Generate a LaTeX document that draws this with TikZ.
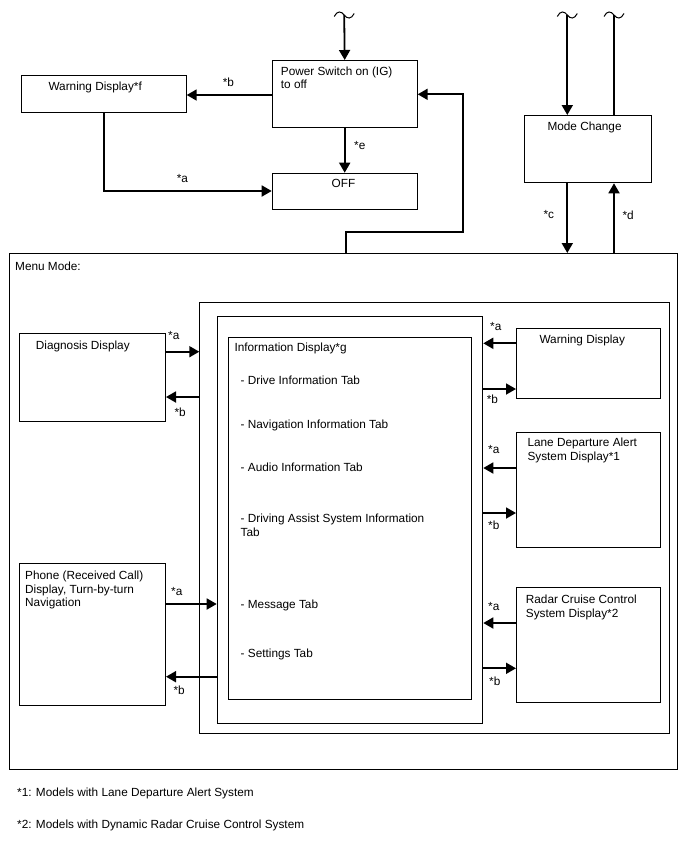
\documentclass[tikz,border=0pt]{standalone}
\usepackage{fontspec}
\setmainfont{Liberation Sans}
\usetikzlibrary{arrows.meta}
\begin{document}
\begin{tikzpicture}[x=1pt,y=-1pt,
  box/.style={draw,line width=1pt,inner sep=0pt,anchor=north west},
  txt/.style={anchor=base west,inner sep=0pt,font=\fontsize{11.8}{14}\selectfont},
  ctxt/.style={anchor=base,inner sep=0pt,font=\fontsize{11.8}{14}\selectfont},
  arr/.style={line width=1.8pt,-{Triangle[length=10pt,width=11pt]}},
  ln/.style={line width=1.8pt},
  squig/.pic={\draw[line width=1pt] (-10,1.5) .. controls (-7,-4.5) and (-3,-4) .. (0,0) .. controls (3,4) and (7,4.5) .. (10,-1.5);}]
\fill[white] (0,0) rectangle (688,852);
\useasboundingbox (0,0) rectangle (688,852);

% boxes
\node[box,minimum width=145pt,minimum height=66.7pt] (ps) at (271.7,60) {};
\node[box,minimum width=164.7pt,minimum height=37.3pt] (wf) at (21,75) {};
\node[box,minimum width=145pt,minimum height=36.6pt] (off) at (271.7,172.7) {};
\node[box,minimum width=127pt,minimum height=67.3pt] (mc) at (524.3,115) {};
\node[box,minimum width=668.3pt,minimum height=516.3pt] (menu) at (9,253) {};
\node[box,minimum width=469.7pt,minimum height=431pt] (bA) at (199.3,301.7) {};
\node[box,minimum width=265.6pt,minimum height=407pt] (bB) at (216.7,315.7) {};
\node[box,minimum width=242.4pt,minimum height=361.8pt] (bC) at (228.3,336.7) {};
\node[box,minimum width=146pt,minimum height=87.7pt] (diag) at (19,333) {};
\node[box,minimum width=146pt,minimum height=142pt] (phone) at (19,563) {};
\node[box,minimum width=144pt,minimum height=70.5pt] (wd) at (516,327.5) {};
\node[box,minimum width=144pt,minimum height=115pt] (lda) at (516,431.7) {};
\node[box,minimum width=144pt,minimum height=115.3pt] (rcc) at (516,586.7) {};

% tilde ends
\coordinate (t1) at (344.2,15);
\coordinate (t2) at (567.3,15);
\coordinate (t3) at (614,15);
\pic at (t1) {squig};
\pic at (t2) {squig};
\pic at (t3) {squig};
\coordinate (fbturn) at (463,232.3);

% connectors top
\draw[arr] (t1) -- (ps.north);
\draw[arr] (ps.south) -- (off.north);
\draw[arr] (ps.west |- 0,95) -- (wf.east |- 0,95);
\draw[arr] (wf.south) |- (off.west |- 0,191);
\draw[arr] (menu.north -| 345.7,0) |- (fbturn) |- (ps.east |- 0,94.3);
\draw[arr] (t2) -- (mc.north -| t2);
\draw[ln] (mc.north -| t3) -- (t3);
\draw[arr] (mc.south -| t2) -- (menu.north -| t2);
\draw[arr] (menu.north -| t3) -- (mc.south -| t3);

% connectors left
\draw[arr] (diag.east |- 0,351.7) -- (bA.west |- 0,351.7);
\draw[arr] (bA.west |- 0,397) -- (diag.east |- 0,397);
\draw[arr] (phone.east |- 0,604) -- (bB.west |- 0,604);
\draw[arr] (bB.west |- 0,676.7) -- (phone.east |- 0,676.7);

% connectors right
\draw[arr] (wd.west |- 0,343.3) -- (bB.east |- 0,343.3);
\draw[arr] (bB.east |- 0,389) -- (wd.west |- 0,389);
\draw[arr] (lda.west |- 0,468) -- (bB.east |- 0,468);
\draw[arr] (bB.east |- 0,513) -- (lda.west |- 0,513);
\draw[arr] (rcc.west |- 0,623) -- (bB.east |- 0,623);
\draw[arr] (bB.east |- 0,668.3) -- (rcc.west |- 0,668.3);

% texts
\node[txt] (pst1) at (280.7,75) {Power Switch on (IG)};
\node[txt] (pst2) at (280.7,88.5) {to off};
\node[txt] (wft) at (48.3,90) {Warning Display*f};
\node[txt] (lb1) at (222.7,86) {*b};
\node[txt] (la1) at (176.7,182.7) {*a};
\node[ctxt] (offt) at (343.5,187.3) {OFF};
\node[txt] (le) at (354,149) {*e};
\node[txt] (mct) at (547.3,130) {Mode Change};
\node[txt] (lc) at (543.3,218.3) {*c};
\node[txt] (ld) at (622.3,219.3) {*d};
\node[txt] (mmt) at (15,270) {Menu Mode:};
\node[txt] (diagt) at (35.7,349) {Diagnosis Display};
\node[txt] (la2) at (168,339) {*a};
\node[txt] (lb2) at (174.3,416.7) {*b};
\node[txt] (infot) at (234.3,351) {Information Display*g};
\node[txt] (tab1) at (240.5,384) {- Drive Information Tab};
\node[txt] (tab2) at (240.5,428) {- Navigation Information Tab};
\node[txt] (tab3) at (240.5,471) {- Audio Information Tab};
\node[txt] (tab4a) at (240.5,522.7) {- Driving Assist System Information};
\node[txt] (tab4b) at (240.5,536) {Tab};
\node[txt] (tab5) at (240.5,608) {- Message Tab};
\node[txt] (tab6) at (240.5,657.7) {- Settings Tab};
\node[txt] (ph1) at (25,579) {Phone (Received Call)};
\node[txt] (ph2) at (25,593) {Display, Turn-by-turn};
\node[txt] (ph3) at (25,606.7) {Navigation};
\node[txt] (la3) at (171,595) {*a};
\node[txt] (lb3) at (173.3,694) {*b};
\node[txt] (wdt) at (539.3,343.3) {Warning Display};
\node[txt] (la4) at (490,330.7) {*a};
\node[txt] (lb4) at (486.7,403.3) {*b};
\node[txt] (ldt1) at (527.3,446.7) {Lane Departure Alert};
\node[txt] (ldt2) at (527.3,460.5) {System Display*1};
\node[txt] (la5) at (488,453.3) {*a};
\node[txt] (lb5) at (488,529.3) {*b};
\node[txt] (rct1) at (525.7,603.3) {Radar Cruise Control};
\node[txt] (rct2) at (525.7,617) {System Display*2};
\node[txt] (la6) at (488,610.7) {*a};
\node[txt] (lb6) at (489,685.7) {*b};
\node[txt] (fn1) at (17,796) {*1: Models with Lane Departure Alert System};
\node[txt] (fn2) at (17,828) {*2: Models with Dynamic Radar Cruise Control System};
\end{tikzpicture}
\end{document}
